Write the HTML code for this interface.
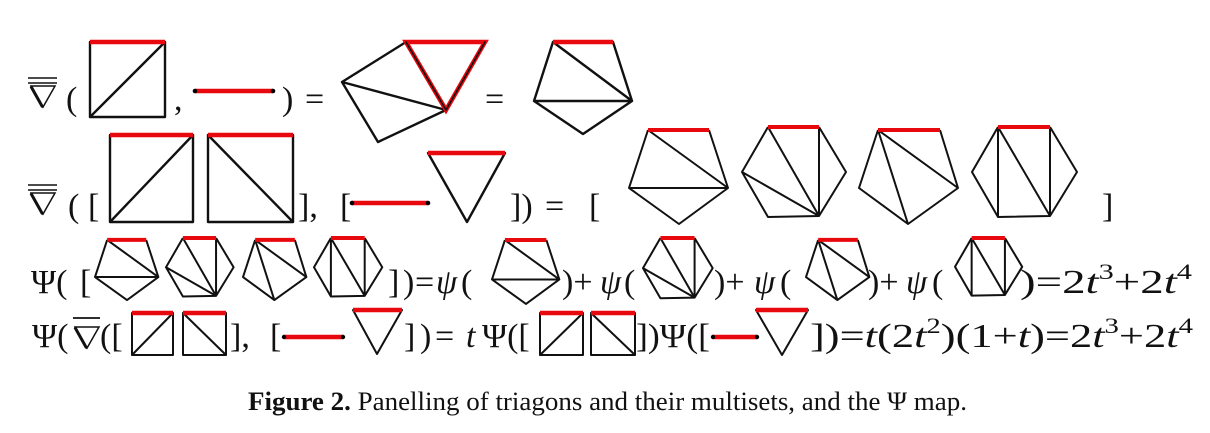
<!DOCTYPE html>
<html><head><meta charset="utf-8"><style>
html,body{margin:0;padding:0;background:#fff;}
svg{display:block;}
text{font-family:"Liberation Serif",serif;fill:#111;}
.m{font-size:34px;}
.i{font-style:italic;}
.k{stroke:#111;stroke-width:2.4;fill:none;stroke-linecap:round;stroke-linejoin:round;}
.r{stroke:#e8090f;stroke-width:4.5;fill:none;}
.ks{stroke:#111;stroke-width:2;fill:none;vector-effect:non-scaling-stroke;stroke-linejoin:round;}
.rs{stroke:#e8090f;stroke-width:4;fill:none;vector-effect:non-scaling-stroke;}
.nb{fill:none;stroke:#111;stroke-linejoin:miter;}
</style></head><body>
<svg width="1210" height="433" viewBox="0 0 1210 433" xmlns="http://www.w3.org/2000/svg">
<defs>
<g id="A"><path class="ks" d="M80,3 L99,61 L50,97 L0,61 L19,3 M19,3 L99,61 M0,61 L99,61"/><path class="rs" d="M19,3 L80,3"/></g>
<g id="B"><path class="ks" d="M77,0 L104,45 L77,89 L26,90 L0,45 L26,0 M26,0 L77,89 M77,0 L77,89 M0,45 L77,89"/><path class="rs" d="M26,0 L77,0"/></g>
<g id="C"><path class="ks" d="M81,3 L99,61 L49,97 L0,61 L19,3 M19,3 L99,61 M19,3 L49,97"/><path class="rs" d="M19,3 L81,3"/></g>
<g id="D"><path class="ks" d="M78,0 L105,45 L78,89 L26,90 L0,45 L26,0 M26,0 L26,90 M26,0 L78,89 M78,0 L78,89"/><path class="rs" d="M26,0 L78,0"/></g>
<g id="nab"><path class="nb" stroke-width="1.5" d="M0,0 L25,0 L12.5,22"/><path class="nb" stroke-width="3" d="M1,0.5 L12.5,21"/></g>
</defs>

<!-- Row 1 -->
<use href="#nab" x="30" y="86"/>
<line x1="28" y1="78" x2="57" y2="78" stroke="#111" stroke-width="1.6"/>
<line x1="28" y1="83" x2="57" y2="83" stroke="#111" stroke-width="1.6"/>
<text class="m" x="66" y="110">(</text>
<path class="k" d="M90,42 L90,117 L165,117 L165,42 M90,117 L165,42"/>
<path class="r" d="M90,42 L165,42"/>
<text class="m" x="174" y="110">,</text>
<path class="r" d="M195,91 L273,91"/>
<circle cx="195" cy="91" r="2.3"/><circle cx="273" cy="91" r="2.3"/>
<text class="m" x="282" y="110">)</text>
<text class="m" x="305" y="110">=</text>
<path class="k" d="M342,82 L406,42 M342,82 L446,110 M342,82 L378,142 L446,110"/>
<path class="r" d="M406,42 L485,42 L446,110 Z"/>
<path class="k" d="M406,42 L446,110 L485,42" style="stroke-width:1.6"/>
<text class="m" x="485" y="110">=</text>
<path class="k" d="M613,42 L632,101 L583,134 L534,101 L553,42 M553,42 L632,101 M534,101 L632,101"/>
<path class="r" d="M553,42 L613,42"/>

<!-- Row 2 -->
<use href="#nab" x="30" y="193"/>
<line x1="28" y1="185" x2="57" y2="185" stroke="#111" stroke-width="1.6"/>
<line x1="28" y1="190" x2="57" y2="190" stroke="#111" stroke-width="1.6"/>
<text class="m" x="68" y="217">(</text>
<text class="m" x="88" y="217">[</text>
<path class="k" d="M110,135 L110,222 L193,222 L193,135 M110,222 L193,135"/>
<path class="r" d="M110,135 L193,135"/>
<path class="k" d="M208,135 L208,222 L293,222 L293,135 M208,135 L293,222"/>
<path class="r" d="M208,135 L293,135"/>
<text class="m" x="298" y="217">],</text>
<text class="m" x="340" y="217">[</text>
<path class="r" d="M352,203 L428,203"/>
<circle cx="352" cy="203" r="2.3"/><circle cx="428" cy="203" r="2.3"/>
<path class="k" d="M428,153 L467,222 L505,153"/>
<path class="r" d="M428,153 L505,153"/>
<text class="m" x="510" y="217">])</text>
<text class="m" x="545" y="217">=</text>
<text class="m" x="589" y="217">[</text>
<use href="#A" x="629" y="127"/>
<use href="#B" x="742" y="127"/>
<use href="#C" x="859" y="127"/>
<use href="#D" x="972" y="127"/>
<text class="m" x="1102" y="217">]</text>

<!-- Row 3 -->
<text class="m" x="31" y="293">Ψ(</text>
<text class="m" x="80" y="293">[</text>
<use href="#A" transform="translate(95,238) scale(0.64)"/>
<use href="#B" transform="translate(166,238) scale(0.65)"/>
<use href="#C" transform="translate(243,238) scale(0.64)"/>
<use href="#D" transform="translate(314,238) scale(0.65)"/>
<text class="m" x="388" y="293">]</text>
<text class="m" x="403" y="293">)</text>
<text class="m" x="415" y="293">=</text>
<text class="m i" x="436" y="293">ψ</text>
<text class="m" x="461" y="293">(</text>
<use href="#A" transform="translate(492,238) scale(0.68)"/>
<text class="m" x="562" y="293">)+</text>
<text class="m i" x="600" y="293">ψ</text>
<text class="m" x="624" y="293">(</text>
<use href="#B" transform="translate(643,238) scale(0.67)"/>
<text class="m" x="714" y="293">)+</text>
<text class="m i" x="754" y="293">ψ</text>
<text class="m" x="780" y="293">(</text>
<use href="#C" transform="translate(806,238) scale(0.64)"/>
<text class="m" x="868" y="293">)+</text>
<text class="m i" x="906" y="293">ψ</text>
<text class="m" x="932" y="293">(</text>
<use href="#D" transform="translate(955,238) scale(0.64)"/>
<text class="m" x="1020" y="293" textLength="172" lengthAdjust="spacingAndGlyphs">)=2<tspan font-style="italic">t</tspan><tspan font-size="22" dy="-14">3</tspan><tspan dy="14">+2</tspan><tspan font-style="italic">t</tspan><tspan font-size="22" dy="-14">4</tspan></text>

<!-- Row 4 -->
<text class="m" x="32" y="347">Ψ(</text>
<use href="#nab" x="74" y="327"/>
<line x1="73" y1="318" x2="100" y2="318" stroke="#111" stroke-width="1.8"/>
<text class="m" x="100" y="347">([</text>
<path class="k" d="M132,313 L132,355 L173,355 L173,313 M132,355 L173,313" style="stroke-width:2"/>
<path class="r" d="M132,313 L173,313"/>
<path class="k" d="M183,313 L183,355 L226,355 L226,313 M183,313 L226,355" style="stroke-width:2"/>
<path class="r" d="M183,313 L226,313"/>
<text class="m" x="230" y="347">],</text>
<text class="m" x="270" y="347">[</text>
<path class="r" d="M284,337 L343,337"/>
<circle cx="284" cy="337" r="2.2"/><circle cx="343" cy="337" r="2.2"/>
<path class="k" d="M353,310 L377,354 L402,310" style="stroke-width:2"/>
<path class="r" d="M353,310 L402,310"/>
<text class="m" x="404" y="347">]</text>
<text class="m" x="420" y="347">)</text>
<text class="m" x="435" y="347">=</text>
<text class="m i" x="466" y="347">t</text>
<text class="m" x="482" y="347">Ψ([</text>
<path class="k" d="M540,313 L540,355 L583,355 L583,313 M540,355 L583,313" style="stroke-width:2"/>
<path class="r" d="M540,313 L583,313"/>
<path class="k" d="M591,313 L591,355 L635,355 L635,313 M591,313 L635,355" style="stroke-width:2"/>
<path class="r" d="M591,313 L635,313"/>
<text class="m" x="636" y="347" textLength="74" lengthAdjust="spacingAndGlyphs">])Ψ([</text>
<path class="r" d="M713,337 L757,337"/>
<circle cx="713" cy="337" r="2.2"/><circle cx="757" cy="337" r="2.2"/>
<path class="k" d="M756,310 L782,355 L808,310" style="stroke-width:2"/>
<path class="r" d="M756,310 L808,310"/>
<text class="m" x="810" y="347" textLength="383" lengthAdjust="spacingAndGlyphs">])=<tspan font-style="italic">t</tspan>(2<tspan font-style="italic">t</tspan><tspan font-size="22" dy="-14">2</tspan><tspan dy="14">)(1+</tspan><tspan font-style="italic">t</tspan>)=2<tspan font-style="italic">t</tspan><tspan font-size="22" dy="-14">3</tspan><tspan dy="14">+2</tspan><tspan font-style="italic">t</tspan><tspan font-size="22" dy="-14">4</tspan></text>

<!-- Caption -->
<text x="248" y="410" font-size="26" textLength="719" lengthAdjust="spacingAndGlyphs"><tspan font-weight="bold">Figure 2.</tspan>  Panelling of triagons and their multisets, and the Ψ map.</text>
</svg>
</body></html>
